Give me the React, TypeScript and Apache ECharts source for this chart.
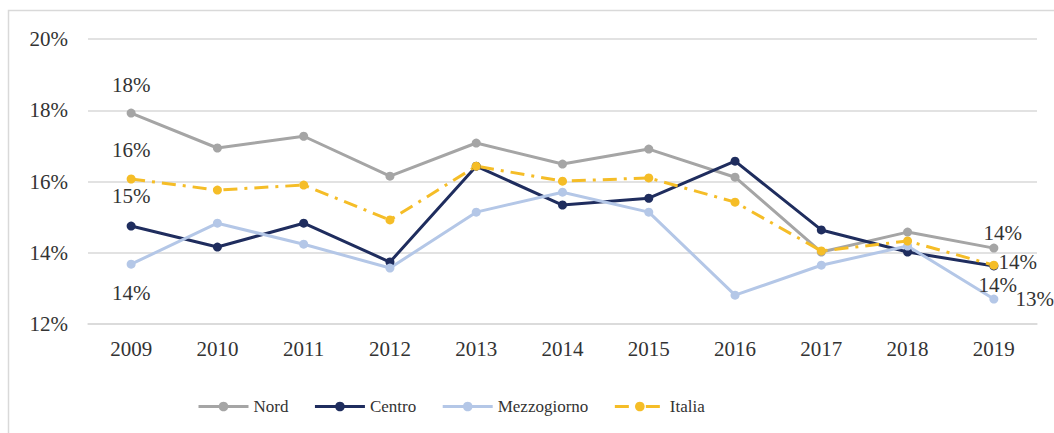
import React, { useEffect, useRef } from "react";
import * as echarts from "echarts";

const years = ["2009", "2010", "2011", "2012", "2013", "2014", "2015", "2016", "2017", "2018", "2019"];
const nord = [17.92, 16.94, 17.27, 16.15, 17.08, 16.49, 16.91, 16.12, 14.02, 14.58, 14.13];
const centro = [14.75, 14.16, 14.83, 13.74, 16.43, 15.34, 15.53, 16.57, 14.64, 14.02, 13.63];
const mezzogiorno = [13.68, 14.83, 14.24, 13.57, 15.14, 15.70, 15.14, 12.81, 13.65, 14.19, 12.70];
const italia = [16.07, 15.76, 15.90, 14.92, 16.43, 16.01, 16.10, 15.42, 14.05, 14.33, 13.65];
const legendNames = ["Nord", "Centro", "Mezzogiorno", "Italia"];

const FONT = "'Liberation Serif', 'Times New Roman', serif";
const TEXT = "#333333";

function withLabels(values: number[], first: number[], last: number[]) {
  return values.map((v, i) => {
    if (i === 0 || i === values.length - 1) {
      const off = i === 0 ? first : last;
      return {
        value: v,
        label: {
          show: true,
          position: "inside",
          offset: off,
          formatter: (p: any) => Math.round(p.value) + "%",
          color: TEXT,
          fontFamily: FONT,
          fontSize: 21,
        },
      };
    }
    return v;
  });
}

export default function App() {
  const ref = useRef<HTMLDivElement>(null);
  useEffect(() => {
    if (!ref.current) return;
    const chart = echarts.init(ref.current, undefined, { renderer: "svg" });
    const mk = (name: string, color: string, data: any[], dash?: number[]) => ({
      name,
      type: "line",
      data,
      symbol: "circle",
      symbolSize: 9,
      itemStyle: { color },
      lineStyle: { color, width: 3, type: dash ? dash : "solid" },
      emphasis: { disabled: true },
      z: 2,
    });
    chart.setOption({
      animation: false,
      textStyle: { fontFamily: FONT },
      graphic: [
        {
          type: "rect",
          shape: { x: 8.5, y: 10.5, width: 1200, height: 600 },
          style: { fill: "none", stroke: "#d9d9d9", lineWidth: 1.5 },
          silent: true,
          z: -10,
        },
      ],
      grid: { left: 88, right: 17, top: 39, bottom: 109 },
      legend: {
        left: 192,
        top: 393,
        itemWidth: 50,
        itemHeight: 12,
        itemGap: 25,
        lineStyle: { width: 3 },
        textStyle: { color: TEXT, fontFamily: FONT, fontSize: 17 },
        data: legendNames,
      },
      xAxis: {
        type: "category",
        data: years,
        boundaryGap: true,
        axisTick: { show: false },
        axisLine: { lineStyle: { color: "#d9d9d9", width: 1.5 } },
        axisLabel: { color: TEXT, fontFamily: FONT, fontSize: 21, margin: 14 },
      },
      yAxis: {
        type: "value",
        min: 12,
        max: 20,
        interval: 2,
        axisLine: { show: false },
        axisTick: { show: false },
        axisLabel: { color: TEXT, fontFamily: FONT, fontSize: 21, margin: 20, formatter: "{value}%" },
        splitLine: { lineStyle: { color: "#d9d9d9", width: 1.5 } },
      },
      series: [
        mk("Nord", "#a5a5a5", withLabels(nord, [0, -28], [9, -15])),
        mk("Centro", "#1f2d5e", withLabels(centro, [0, -30], [4, 19])),
        mk("Mezzogiorno", "#b4c7e7", withLabels(mezzogiorno, [0, 29], [41, 0])),
        mk("Italia", "#f5bd27", withLabels(italia, [0, -29], [24, -3]), [14, 7, 3, 7]),
      ],
    });
    return () => chart.dispose();
  }, []);
  return (
    <div
      ref={ref}
      style={{ position: "fixed", left: 0, top: 0, width: 1054, height: 433, background: "#fff" }}
    />
  );
}
